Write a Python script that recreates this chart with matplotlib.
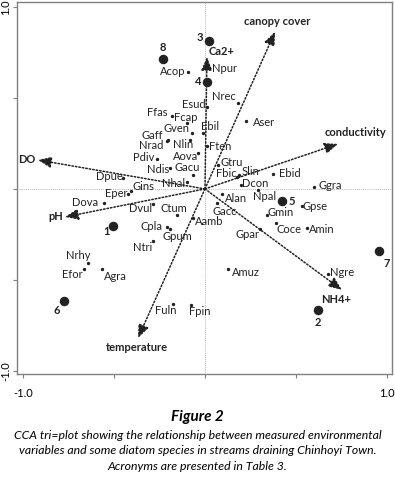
import numpy as np
import matplotlib
matplotlib.use('Agg')
import matplotlib.pyplot as plt

plt.rcParams['font.family'] = ['Lato', 'DejaVu Sans']

# species scores (CCA axis 1, axis 2)
species = ['Acop', 'Npur', 'Nrec', 'Esud', 'Aser', 'Ebil', 'Ffas', 'Fcap', 'Gven', 'Gaff',
           'Nrad', 'Nlin', 'Pdiv', 'Aova', 'Ndis', 'Gacu', 'Dpue', 'Nhal', 'Gins', 'Eper',
           'Dova', 'Dvul', 'Ctum', 'Cpla', 'Gpum', 'Ntri', 'Aamb', 'Alan', 'Gacc', 'Dcon',
           'Npal', 'Gmin', 'Gpse', 'Coce', 'Amin', 'Gpar', 'Amuz', 'Ggra', 'Ebid', 'Slin',
           'Fbic', 'Gtru', 'Ften', 'Nrhy', 'Efor', 'Agra', 'Fuln', 'Fpin', 'Ngre']
sp_x = [-0.093, 0.022, 0.181, 0.011, 0.225, -0.011, -0.181, -0.099, -0.071, -0.203,
        -0.209, -0.082, -0.264, -0.038, -0.192, -0.066, -0.451, -0.099, -0.407, -0.423,
        -0.555, -0.286, -0.154, -0.209, -0.192, -0.286, -0.066, 0.093, 0.066, 0.198,
        0.291, 0.341, 0.533, 0.390, 0.560, 0.302, 0.126, 0.599, 0.374, 0.187,
        0.176, 0.071, 0.011, -0.643, -0.665, -0.566, -0.176, -0.077, 0.676]
sp_y = [0.643, 0.665, 0.473, 0.451, 0.374, 0.308, 0.401, 0.363, 0.308, 0.269,
        0.264, 0.269, 0.165, 0.198, 0.115, 0.077, 0.060, 0.038, -0.011, -0.027,
        -0.077, -0.082, -0.143, -0.209, -0.220, -0.286, -0.159, -0.027, -0.077, 0.022,
        -0.005, -0.143, -0.093, -0.187, -0.214, -0.220, -0.440, 0.011, 0.082, 0.077,
        0.066, 0.132, 0.236, -0.407, -0.440, -0.440, -0.632, -0.637, -0.467]

# sites
sites = ['1', '2', '3', '4', '5', '6', '7', '8']
site_x = [-0.505, 0.621, 0.022, 0.011, 0.423, -0.775, 0.956, -0.231]
site_y = [-0.203, -0.665, 0.813, 0.588, -0.066, -0.615, -0.341, 0.714]

# environmental variables (arrow tips)
env = ['canopy cover', 'Ca2+', 'conductivity', 'DO', 'pH', 'temperature', 'NH4+']
env_x = [0.385, 0.011, 0.731, -0.918, -0.769, -0.368, 0.753]
env_y = [0.863, 0.725, 0.247, 0.159, -0.154, -0.819, -0.555]

# label offsets in pixels (dx, dy)
sp_off = {'Acop': (-15, 0), 'Npur': (16, -1), 'Nrec': (-14, 6), 'Esud': (-13, 2),
          'Aser': (18, -2), 'Ebil': (7, 6), 'Ffas': (-15, 3), 'Fcap': (-1, 5),
          'Gven': (-16, 4), 'Gaff': (-16, 4), 'Nrad': (-16, -5), 'Nlin': (-7, -5),
          'Pdiv': (-13, 1), 'Aova': (-12, -4), 'Ndis': (-12, -2), 'Gacu': (-6, 7),
          'Dpue': (-14, 1), 'Nhal': (-13, -1), 'Gins': (13, 4), 'Eper': (-12, 0),
          'Dova': (-19, 0), 'Dvul': (-12, -5), 'Ctum': (-3, 6), 'Cpla': (-15, 0),
          'Gpum': (7, -8), 'Ntri': (-10, -7), 'Aamb': (16, -4), 'Alan': (14, -5),
          'Gacc': (8, -9), 'Dcon': (14, 1), 'Npal': (7, -7), 'Gmin': (14, 2),
          'Gpse': (13, -1), 'Coce': (13, -7), 'Amin': (15, -2), 'Gpar': (-12, -6),
          'Amuz': (18, -3), 'Ggra': (16, 1), 'Ebid': (17, 0), 'Slin': (12, 3),
          'Fbic': (-11, 3), 'Gtru': (14, 2), 'Ften': (13, -1), 'Nrhy': (-10, 8),
          'Efor': (-12, -5), 'Agra': (13, -7), 'Fuln': (-7, -7), 'Fpin': (9, -7),
          'Ngre': (14, 1)}
site_off = {'1': (-6, -6), '2': (0, -12), '3': (-9, 3), '4': (-9, 0), '5': (10, -1),
            '6': (-7, -10), '7': (8, -12), '8': (0, 11)}
env_off = {'canopy cover': (2, 10, 'center'), 'Ca2+': (15, 5, 'center'),
           'conductivity': (18, 11, 'center'), 'DO': (-3, 0, 'right'),
           'pH': (-2, 0, 'right'), 'temperature': (-1, -9, 'center'),
           'NH4+': (-6, -10, 'center')}

fig = plt.figure(figsize=(3.95, 4.8), dpi=100)
ax = fig.add_axes([0.043, 0.221, 0.949, 0.775])

ax.axhline(0, color='#999999', lw=0.6, ls=(0, (1, 1.5)), zorder=0)
ax.axvline(0, color='#999999', lw=0.6, ls=(0, (1, 1.5)), zorder=0)

# environmental arrows
for name, x, y in zip(env, env_x, env_y):
    ax.annotate('', xy=(x, y), xytext=(0, 0),
                arrowprops=dict(arrowstyle='-|>,head_length=0.8,head_width=0.33',
                                color='#222222', lw=1.1, ls=(0, (1, 1.3)),
                                shrinkA=0, shrinkB=0))
    dx, dy, ha = env_off[name]
    ax.annotate(name, (x, y), xytext=(dx, dy), textcoords='offset pixels',
                ha=ha, va='center', fontsize=8, fontweight='bold', color='#222222')

# species
ax.scatter(sp_x, sp_y, s=2, color='#222222', zorder=3)
for name, x, y in zip(species, sp_x, sp_y):
    dx, dy = sp_off[name]
    ax.annotate(name, (x, y), xytext=(dx, dy), textcoords='offset pixels',
                ha='center', va='center', fontsize=8, color='#222222')

# sites
ax.scatter(site_x, site_y, s=34, color='#222222', zorder=4)
for name, x, y in zip(sites, site_x, site_y):
    dx, dy = site_off[name]
    ax.annotate(name, (x, y), xytext=(dx, dy), textcoords='offset pixels',
                ha='center', va='center', fontsize=8, fontweight='bold', color='#222222')

ax.set_xlim(-1.033, 1.027)
ax.set_ylim(-1.016, 1.027)
ax.set_xticks([-1, -0.5, 0, 0.5, 1])
ax.set_xticklabels(['-1.0', '', '', '', '1.0'])
ax.set_yticks([-1, -0.5, 0, 0.5, 1])
ax.set_yticklabels(['-1.0', '', '', '', '1.0'], rotation=90, va='center')
ax.tick_params(length=3, width=0.8, color='#808080', labelsize=8)
ax.tick_params(axis='x', pad=7)
ax.tick_params(axis='y', pad=1)
for s in ax.spines.values():
    s.set_color('#808080')
    s.set_linewidth(1)

fig.text(0.5, 1 - 417 / 480, 'Figure 2', ha='center', va='center',
         fontsize=11, fontweight='bold', style='italic')
caption = ('CCA tri=plot showing the relationship between measured environmental\n'
           'variables and some diatom species in streams draining Chinhoyi Town.\n'
           'Acronyms are presented in Table 3.')
fig.text(0.5, 1 - 451 / 480, caption, ha='center', va='center',
         fontsize=8.8, style='italic', linespacing=1.5)

plt.savefig('out.png', dpi=100)
